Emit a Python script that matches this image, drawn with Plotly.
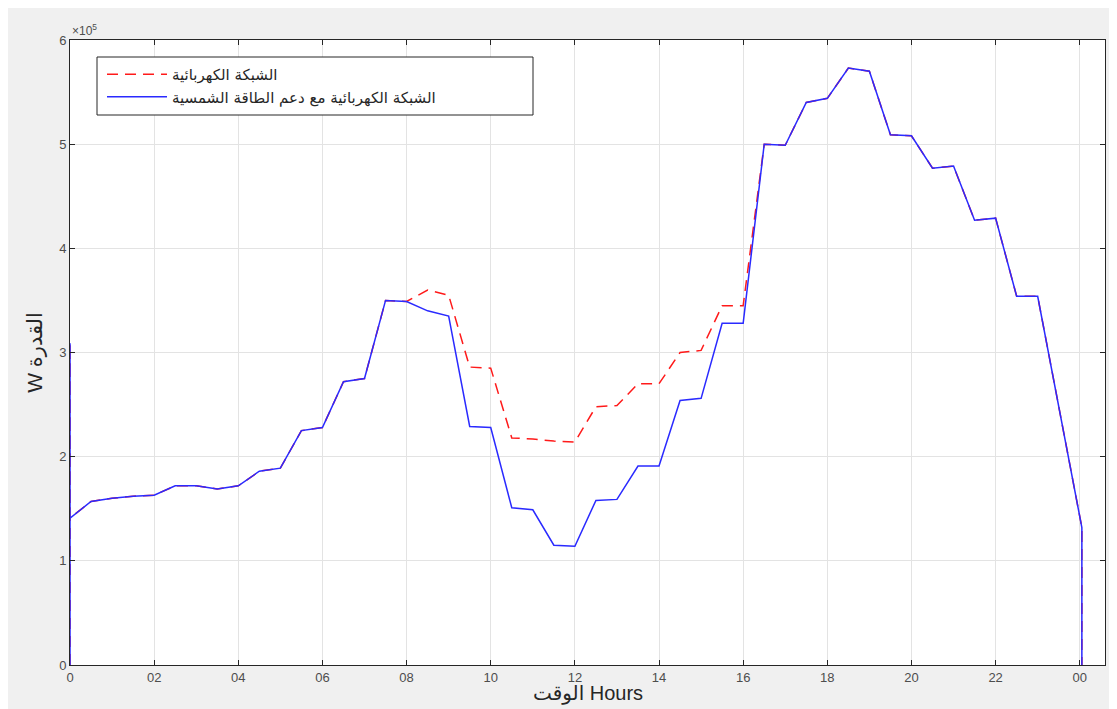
import plotly.graph_objects as go

# time (hours) and power values (units of 1e5 W)
hours = [0, 0, 0, 0.5, 1, 1.5, 2, 2.5, 3, 3.5, 4, 4.5, 5, 5.5, 6, 6.5, 7, 7.5, 8,
         8.5, 9, 9.5, 10, 10.5, 11, 11.5, 12, 12.5, 13, 13.5, 14, 14.5, 15, 15.5, 16,
         16.5, 17, 17.5, 18, 18.5, 19, 19.5, 20, 20.5, 21, 21.5, 22, 22.5, 23, 24.05, 24.05]

grid_only = [0, 3.09, 1.41, 1.57, 1.60, 1.62, 1.63, 1.72, 1.72, 1.69, 1.72, 1.86, 1.89, 2.25, 2.28,
             2.72, 2.75, 3.50, 3.49,
             3.60, 3.55, 2.86, 2.85, 2.18, 2.17, 2.15, 2.14, 2.48, 2.49, 2.70, 2.70, 3.00, 3.02,
             3.45, 3.45,
             5.00, 4.99, 5.40, 5.44, 5.73, 5.70, 5.09, 5.08, 4.77, 4.79, 4.27, 4.29, 3.54, 3.54, 1.32, 0]

grid_solar = [0, 3.09, 1.41, 1.57, 1.60, 1.62, 1.63, 1.72, 1.72, 1.69, 1.72, 1.86, 1.89, 2.25, 2.28,
              2.72, 2.75, 3.50, 3.49,
              3.40, 3.35, 2.29, 2.28, 1.51, 1.49, 1.15, 1.14, 1.58, 1.59, 1.91, 1.91, 2.54, 2.56,
              3.28, 3.28,
              5.00, 4.99, 5.40, 5.44, 5.73, 5.70, 5.09, 5.08, 4.77, 4.79, 4.27, 4.29, 3.54, 3.54, 1.32, 0]

scale = 1e5
x_tickvals = [0, 2, 4, 6, 8, 10, 12, 14, 16, 18, 20, 22, 24]
x_ticktext = ["0", "02", "04", "06", "08", "10", "12", "14", "16", "18", "20", "22", "00"]
y_tickvals = [0, 1, 2, 3, 4, 5, 6]

name_grid = "الشبكة الكهربائية"
name_solar = "الشبكة الكهربائية مع دعم الطاقة الشمسية"
x_title = "الوقت Hours"
y_title = "W القدرة"

# page geometry (the page body adds an 8px offset)
W, H = 1117, 709
OFF = 8
P_LEFT, P_RIGHT, P_TOP, P_BOTTOM = 70, 1105, 40, 665
ML = P_LEFT - OFF
MT = P_TOP - OFF
MR = W - (P_RIGHT - OFF)
MB = H - (P_BOTTOM - OFF)
PW = P_RIGHT - P_LEFT
PH = P_BOTTOM - P_TOP


def px_x(p):
    return (p - P_LEFT) / PW


def px_y(p):
    return (P_BOTTOM - p) / PH


fig = go.Figure()
fig.add_trace(go.Scatter(
    x=hours, y=[v * scale for v in grid_only], mode="lines", name=name_grid,
    line=dict(color="#ff1a1a", width=1.5, dash="11px,7px"),
))
fig.add_trace(go.Scatter(
    x=hours, y=[v * scale for v in grid_solar], mode="lines", name=name_solar,
    line=dict(color="#2a2aff", width=1.5),
))

axis_common = dict(
    showline=True, linecolor="#262626", linewidth=1, mirror="allticks",
    ticks="inside", ticklen=5, tickcolor="#262626",
    showgrid=True, gridcolor="#e3e3e3", gridwidth=1, zeroline=False,
    automargin=False,
    tickfont=dict(family="Liberation Sans, Arial, sans-serif", size=13, color="#4d4d4d"),
)

title_font = dict(family="Liberation Sans, DejaVu Sans, sans-serif", size=21, color="#262626")
xtitle_font = dict(family="Liberation Sans, DejaVu Sans, sans-serif", size=20, color="#262626")

fig.update_layout(
    width=W, height=H,
    paper_bgcolor="#f0f0f0", plot_bgcolor="#ffffff",
    margin=dict(l=ML, r=MR, t=MT, b=MB),
    showlegend=True,
    legend=dict(
        x=px_x(102), y=px_y(58), xanchor="left", yanchor="top",
        bgcolor="rgba(0,0,0,0)", borderwidth=0,
        font=dict(family="DejaVu Sans, Liberation Sans, sans-serif", size=15, color="#262626"),
        itemwidth=60, tracegroupgap=0,
    ),
    xaxis=dict(
        range=[0, 24.6], tickvals=x_tickvals, ticktext=x_ticktext,
        **axis_common,
    ),
    yaxis=dict(
        range=[0, 6 * scale], tickvals=[v * scale for v in y_tickvals],
        ticktext=[str(v) for v in y_tickvals],
        title=dict(text=y_title, standoff=10, font=title_font),
        **axis_common,
    ),
    shapes=[dict(
        type="rect", xref="paper", yref="paper",
        x0=px_x(97), x1=px_x(533), y0=px_y(115), y1=px_y(57),
        fillcolor="#ffffff", line=dict(color="#262626", width=1), layer="above",
    )],
    annotations=[
        dict(
            text="×10<sup>5</sup>", xref="paper", yref="paper", x=0, y=1,
            xanchor="left", yanchor="bottom", showarrow=False,
            font=dict(family="Liberation Sans, Arial, sans-serif", size=12, color="#4d4d4d"),
        ),
        dict(
            text=x_title, xref="paper", yref="paper", x=0.5, y=px_y(693),
            xanchor="center", yanchor="middle", showarrow=False, font=xtitle_font,
        ),
    ],
)

fig.write_html("out.html")
